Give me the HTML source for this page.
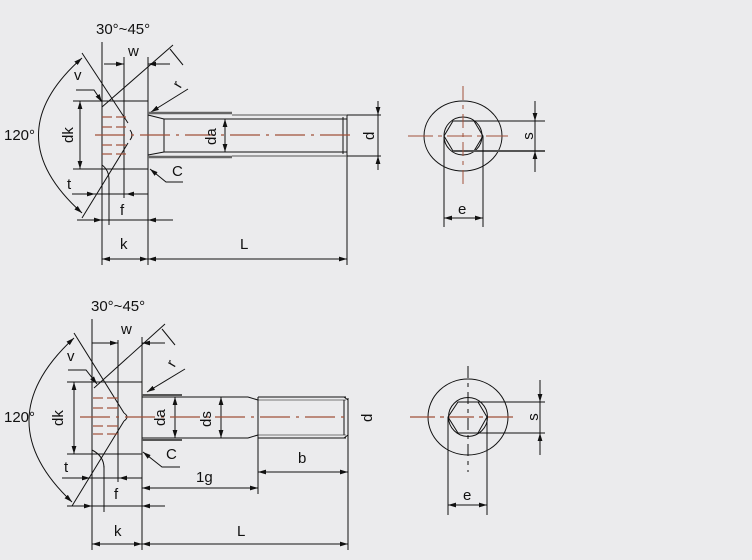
<!DOCTYPE html>
<html><head><meta charset="utf-8"><style>
html,body{margin:0;padding:0;background:#ebebed;}
svg{display:block;}
text{font-family:"Liberation Sans",Arial,sans-serif;font-size:15px;fill:#111;}
</style></head><body>
<svg width="752" height="560" viewBox="0 0 752 560" xmlns="http://www.w3.org/2000/svg">
<defs>
<marker id="a" viewBox="0 0 10 6" refX="10" refY="3" markerWidth="8" markerHeight="5" orient="auto-start-reverse" markerUnits="userSpaceOnUse"><path d="M0,0L10,3L0,6z" fill="#111"/></marker>
</defs>
<rect width="752" height="560" fill="#ebebed"/>
<g stroke="#111" stroke-width="1" fill="none">
<!-- ===== TOP SIDE VIEW ===== -->
<line x1="102" y1="42" x2="102" y2="265"/>
<line x1="148" y1="57" x2="148" y2="265"/>
<line x1="124" y1="57" x2="124" y2="198"/>
<line x1="73" y1="101" x2="148" y2="101"/>
<line x1="73" y1="169" x2="148" y2="169"/>
<line x1="80" y1="101" x2="80" y2="169" marker-start="url(#a)" marker-end="url(#a)"/>
<line x1="104" y1="64" x2="124" y2="64" marker-end="url(#a)"/>
<line x1="170" y1="64" x2="148" y2="64" marker-end="url(#a)"/>
<line x1="102" y1="107" x2="173" y2="45"/>
<line x1="170" y1="49" x2="183" y2="65"/>
<line x1="188" y1="89" x2="151" y2="112" marker-end="url(#a)"/>
<line x1="82" y1="53" x2="128" y2="123"/>
<line x1="128" y1="143" x2="82" y2="218"/>
<path d="M130,130 Q134,135 130,140"/>
<path d="M82,58 Q-5,135 82,213" marker-start="url(#a)" marker-end="url(#a)"/>
<polyline points="76,90 94,90 102,102" marker-end="url(#a)"/>
<line x1="72" y1="194" x2="95" y2="194" marker-end="url(#a)"/>
<line x1="95" y1="194" x2="148" y2="194"/>
<line x1="148" y1="194" x2="126" y2="194" marker-end="url(#a)"/>
<line x1="77" y1="220" x2="102" y2="220" marker-end="url(#a)"/>
<line x1="102" y1="220" x2="148" y2="220"/>
<line x1="173" y1="220" x2="148" y2="220" marker-end="url(#a)"/>
<line x1="109" y1="178" x2="109" y2="225"/>
<path d="M102,165 Q109,170 109,180"/>
<line x1="102" y1="259" x2="148" y2="259" marker-start="url(#a)" marker-end="url(#a)"/>
<line x1="148" y1="259" x2="347" y2="259" marker-start="url(#a)" marker-end="url(#a)"/>
<line x1="347" y1="115" x2="347" y2="265"/>
<line x1="148" y1="113" x2="232" y2="113" stroke="#666" stroke-width="2.5"/>
<line x1="232" y1="115" x2="347" y2="115" stroke="#555"/>
<line x1="164" y1="119" x2="347" y2="119"/>
<line x1="148" y1="157" x2="232" y2="157" stroke="#666" stroke-width="2.5"/>
<line x1="232" y1="156" x2="347" y2="156" stroke="#555"/>
<line x1="164" y1="152" x2="347" y2="152"/>
<line x1="164" y1="119" x2="164" y2="152"/>
<line x1="148" y1="115" x2="164" y2="119"/>
<line x1="148" y1="155" x2="164" y2="152"/>
<line x1="343" y1="117" x2="343" y2="154"/>
<line x1="225" y1="119" x2="225" y2="152" marker-start="url(#a)" marker-end="url(#a)"/>
<line x1="347" y1="115" x2="381" y2="115"/>
<line x1="347" y1="156" x2="381" y2="156"/>
<line x1="378" y1="101" x2="378" y2="115" marker-end="url(#a)"/>
<line x1="378" y1="170" x2="378" y2="156" marker-end="url(#a)"/>
<line x1="378" y1="115" x2="378" y2="156"/>
<polyline points="183,182 166,182 150,169" marker-end="url(#a)"/>
</g>
<g stroke="#a0503a" stroke-width="1.2" fill="none">
<line x1="102" y1="117" x2="112" y2="117"/><line x1="116" y1="117" x2="126" y2="117"/>
<line x1="102" y1="127" x2="112" y2="127"/><line x1="116" y1="127" x2="126" y2="127"/>
<line x1="102" y1="145" x2="112" y2="145"/><line x1="116" y1="145" x2="126" y2="145"/>
<line x1="102" y1="154" x2="112" y2="154"/><line x1="116" y1="154" x2="126" y2="154"/>
<line x1="95" y1="135" x2="353" y2="135" stroke-dasharray="30,6,3,6"/>
</g>
<text x="96" y="34">30°~45°</text>
<text x="128" y="56">w</text>
<text x="74" y="80">v</text>
<text x="174" y="88" transform="rotate(-60 178 83)">r</text>
<text x="4" y="140">120°</text>
<text x="67" y="189">t</text>
<text x="120" y="215">f</text>
<text x="120" y="249">k</text>
<text x="240" y="249">L</text>
<text x="172" y="176">C</text>
<text transform="translate(73,143) rotate(-90)">dk</text>
<text transform="translate(216,145) rotate(-90)">da</text>
<text transform="translate(374,140) rotate(-90)">d</text>

<!-- ===== TOP END VIEW ===== -->
<g stroke="#111" stroke-width="1" fill="none">
<ellipse cx="463" cy="136" rx="39" ry="35"/>
<circle cx="463" cy="136" r="19"/>
<polygon points="444,136 453,121 474,121 483,136 474,151 453,151"/>
<line x1="453" y1="121" x2="545" y2="121"/>
<line x1="453" y1="151" x2="545" y2="151" stroke="#555" stroke-width="2"/>
<line x1="535" y1="101" x2="535" y2="121" marker-end="url(#a)"/>
<line x1="535" y1="172" x2="535" y2="151" marker-end="url(#a)"/>
<line x1="535" y1="121" x2="535" y2="151"/>
<line x1="444" y1="136" x2="444" y2="227"/>
<line x1="483" y1="136" x2="483" y2="227"/>
<line x1="444" y1="218" x2="483" y2="218" marker-start="url(#a)" marker-end="url(#a)"/>
</g>
<g stroke="#a0503a" stroke-width="1" fill="none">
<line x1="408" y1="136" x2="508" y2="136" stroke-dasharray="25,5,4,5"/>
<line x1="463" y1="86" x2="463" y2="187" stroke-dasharray="14,5,4,5"/>
</g>
<text x="528" y="141" transform="rotate(-90 528 136)" text-anchor="middle">s</text>
<text x="458" y="214">e</text>

<!-- ===== BOTTOM SIDE VIEW ===== -->
<g stroke="#111" stroke-width="1" fill="none">
<line x1="92" y1="319" x2="92" y2="550"/>
<line x1="142" y1="337" x2="142" y2="550"/>
<line x1="118" y1="340" x2="118" y2="482"/>
<line x1="67" y1="382" x2="142" y2="382"/>
<line x1="67" y1="454" x2="142" y2="454"/>
<line x1="74" y1="382" x2="74" y2="454" marker-start="url(#a)" marker-end="url(#a)"/>
<line x1="92" y1="343" x2="118" y2="343" marker-end="url(#a)"/>
<line x1="165" y1="343" x2="142" y2="343" marker-end="url(#a)"/>
<line x1="94" y1="388" x2="165" y2="324"/>
<line x1="162" y1="329" x2="175" y2="345"/>
<line x1="185" y1="369" x2="147" y2="392" marker-end="url(#a)"/>
<line x1="74" y1="333" x2="124" y2="413"/>
<line x1="124" y1="421" x2="72" y2="506"/>
<path d="M124,413 Q130,417 124,421"/>
<path d="M74,338 Q-15,420 72,502" marker-start="url(#a)" marker-end="url(#a)"/>
<polyline points="68,370 86,370 97,384" marker-end="url(#a)"/>
<line x1="62" y1="478" x2="90" y2="478" marker-end="url(#a)"/>
<line x1="90" y1="478" x2="142" y2="478"/>
<line x1="142" y1="478" x2="119" y2="478" marker-end="url(#a)"/>
<line x1="67" y1="506" x2="92" y2="506" marker-end="url(#a)"/>
<line x1="92" y1="506" x2="142" y2="506"/>
<line x1="165" y1="506" x2="142" y2="506" marker-end="url(#a)"/>
<line x1="104" y1="466" x2="104" y2="512"/>
<path d="M92,450 Q104,456 104,468"/>
<line x1="92" y1="544" x2="142" y2="544" marker-start="url(#a)" marker-end="url(#a)"/>
<line x1="142" y1="544" x2="348" y2="544" marker-start="url(#a)" marker-end="url(#a)"/>
<line x1="348" y1="398" x2="348" y2="550"/>
<line x1="142" y1="395" x2="182" y2="395" stroke="#555" stroke-width="2"/>
<line x1="142" y1="440" x2="182" y2="440" stroke="#555" stroke-width="2"/>
<line x1="142" y1="397" x2="248" y2="397"/>
<line x1="248" y1="397" x2="258" y2="400"/>
<line x1="258" y1="397" x2="346" y2="397"/>
<line x1="258" y1="400" x2="346" y2="400" stroke="#777"/>
<line x1="142" y1="438" x2="248" y2="438"/>
<line x1="248" y1="438" x2="258" y2="435"/>
<line x1="258" y1="438" x2="346" y2="438"/>
<line x1="258" y1="435" x2="346" y2="435" stroke="#777"/>
<line x1="258" y1="397" x2="258" y2="494"/>
<line x1="344" y1="400" x2="344" y2="435"/>
<line x1="344" y1="397" x2="348" y2="400"/>
<line x1="344" y1="438" x2="348" y2="435"/>
<line x1="175" y1="397" x2="175" y2="438" marker-start="url(#a)" marker-end="url(#a)"/>
<line x1="221" y1="397" x2="221" y2="438" marker-start="url(#a)" marker-end="url(#a)"/>
<polyline points="180,467 162,467 143,452" marker-end="url(#a)"/>
<line x1="258" y1="472" x2="348" y2="472" marker-start="url(#a)" marker-end="url(#a)"/>
<line x1="142" y1="488" x2="258" y2="488" marker-start="url(#a)" marker-end="url(#a)"/>
</g>
<g stroke="#a0503a" stroke-width="1.2" fill="none">
<line x1="93" y1="398" x2="103" y2="398"/><line x1="107" y1="398" x2="118" y2="398"/>
<line x1="93" y1="408" x2="103" y2="408"/><line x1="107" y1="408" x2="118" y2="408"/>
<line x1="93" y1="426" x2="103" y2="426"/><line x1="107" y1="426" x2="118" y2="426"/>
<line x1="93" y1="434" x2="103" y2="434"/><line x1="107" y1="434" x2="118" y2="434"/>
<line x1="80" y1="417" x2="350" y2="417" stroke-dasharray="30,6,3,6"/>
</g>
<text x="91" y="311">30°~45°</text>
<text x="121" y="334">w</text>
<text x="67" y="361">v</text>
<text x="168" y="367" transform="rotate(-60 172 362)">r</text>
<text x="4" y="422">120°</text>
<text x="64" y="472">t</text>
<text x="114" y="499">f</text>
<text x="114" y="536">k</text>
<text x="237" y="536">L</text>
<text x="166" y="459">C</text>
<text x="196" y="482">1g</text>
<text x="298" y="463">b</text>
<text transform="translate(63,426) rotate(-90)">dk</text>
<text transform="translate(165,426) rotate(-90)">da</text>
<text transform="translate(211,427) rotate(-90)">ds</text>
<text transform="translate(372,422) rotate(-90)">d</text>

<!-- ===== BOTTOM END VIEW ===== -->
<g stroke="#111" stroke-width="1" fill="none">
<ellipse cx="468" cy="417" rx="40" ry="38"/>
<circle cx="468" cy="417" r="19.5"/>
<polygon points="448,417 458,402 478,402 487,417 478,433 458,433"/>
<line x1="458" y1="402" x2="545" y2="402"/>
<line x1="458" y1="433" x2="545" y2="433"/>
<line x1="540" y1="380" x2="540" y2="402" marker-end="url(#a)"/>
<line x1="540" y1="455" x2="540" y2="433" marker-end="url(#a)"/>
<line x1="540" y1="402" x2="540" y2="433"/>
<line x1="468" y1="366" x2="468" y2="472" stroke-dasharray="12,5,4,5"/>
<line x1="448" y1="417" x2="448" y2="515"/>
<line x1="487" y1="417" x2="487" y2="515"/>
<line x1="448" y1="505" x2="487" y2="505" marker-start="url(#a)" marker-end="url(#a)"/>
</g>
<line x1="410" y1="417" x2="518" y2="417" stroke="#a0503a" stroke-width="1.2" stroke-dasharray="25,5,4,5"/>
<text x="533" y="422" transform="rotate(-90 533 417)" text-anchor="middle">s</text>
<text x="463" y="500">e</text>
</svg>
</body></html>
